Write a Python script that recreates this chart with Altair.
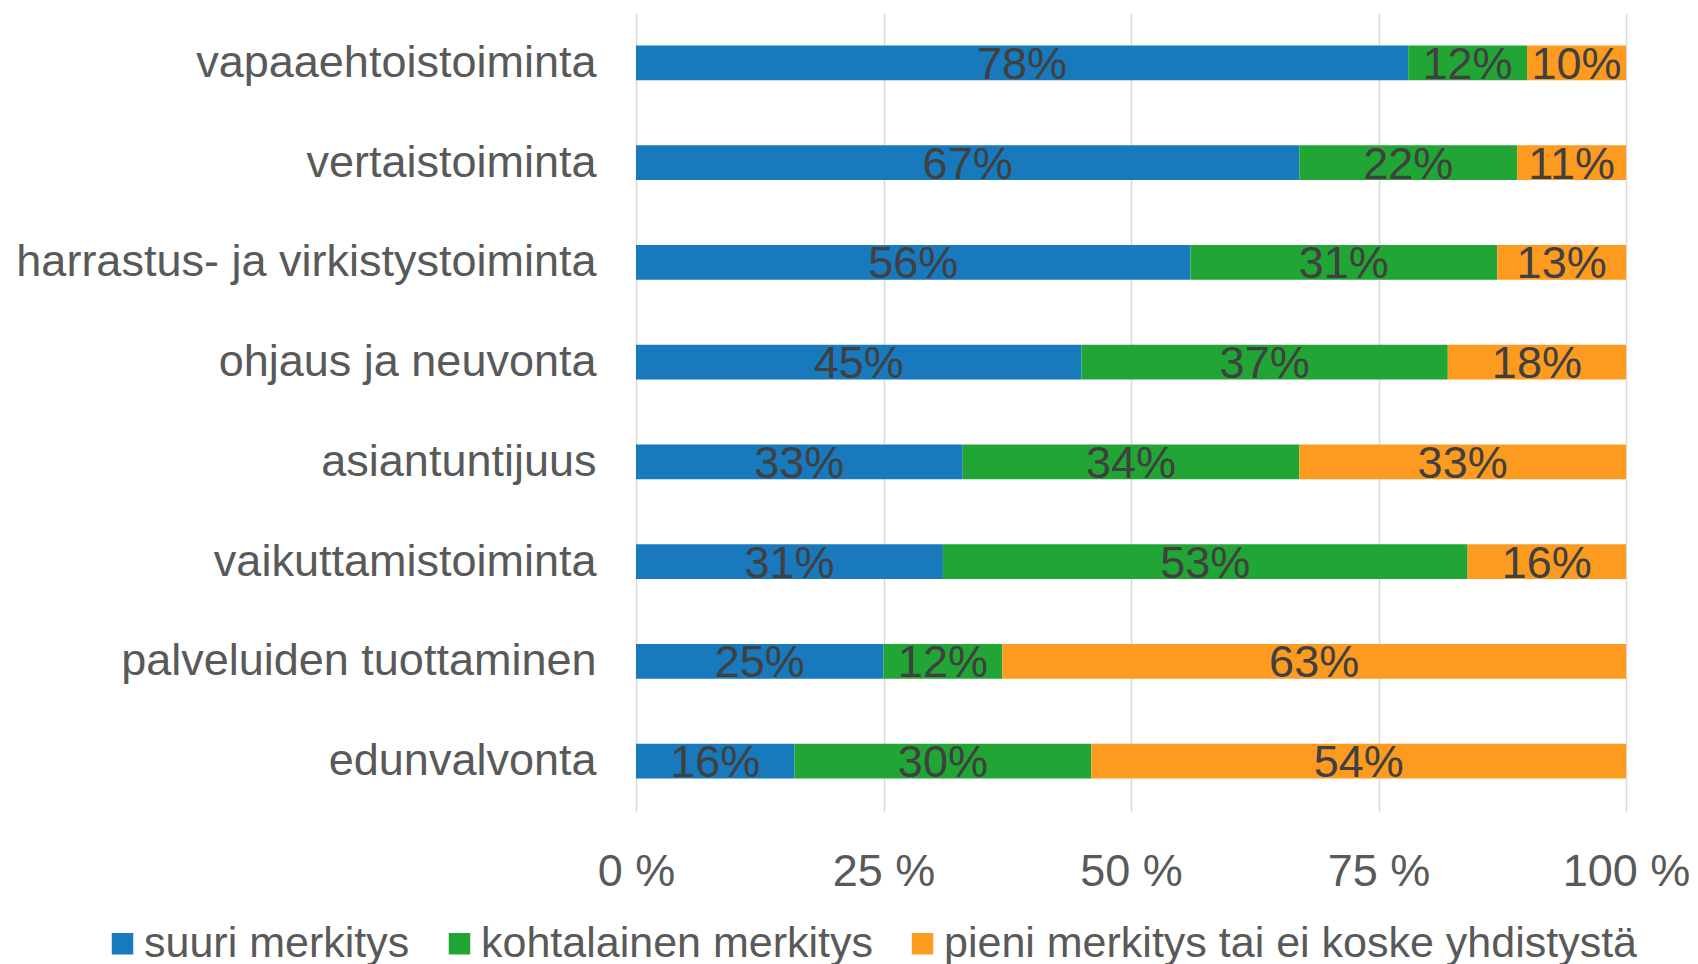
import altair as alt
import pandas as pd

categories = [
    "vapaaehtoistoiminta",
    "vertaistoiminta",
    "harrastus- ja virkistystoiminta",
    "ohjaus ja neuvonta",
    "asiantuntijuus",
    "vaikuttamistoiminta",
    "palveluiden tuottaminen",
    "edunvalvonta",
]
series = ["suuri merkitys", "kohtalainen merkitys", "pieni merkitys tai ei koske yhdistystä"]
suuri = [78, 67, 56, 45, 33, 31, 25, 16]
kohtalainen = [12, 22, 31, 37, 34, 53, 12, 30]
pieni = [10, 11, 13, 18, 33, 16, 63, 54]
colors = ["#1879BD", "#21A535", "#FD9B21"]
x_ticks = [0, 25, 50, 75, 100]

rows = []
for i, c in enumerate(categories):
    for j, (s, vals) in enumerate(zip(series, [suuri, kohtalainen, pieni])):
        rows.append({"cat": c, "series": s, "order": j, "value": vals[i]})
df = pd.DataFrame(rows)

FONT = "Liberation Sans"

base = alt.Chart(df).transform_stack(
    stack="value", groupby=["cat"], as_=["x0", "x1"], sort=[alt.SortField("order")]
).transform_calculate(
    mid="(datum.x0 + datum.x1) / 2", label="datum.value + '%'"
)

y_enc = alt.Y(
    "cat:N",
    sort=categories,
    title=None,
    scale=alt.Scale(paddingInner=0.65, paddingOuter=0.325),
    axis=alt.Axis(
        labelFontSize=45, labelColor="#595959", labelFont=FONT, labelPadding=40,
        ticks=False, domain=False, grid=False, labelLimit=1000,
    ),
)

bars = base.mark_bar(strokeWidth=0).encode(
    x=alt.X(
        "x0:Q",
        scale=alt.Scale(domain=[0, 100], nice=False),
        title=None,
        axis=alt.Axis(
            values=x_ticks, labelExpr="datum.value + ' %'", labelFontSize=45,
            labelColor="#595959", labelFont=FONT, labelPadding=38, tickSize=0,
            labelFlush=False, ticks=False, domain=False, grid=True,
            gridColor="#D9D9D9", gridWidth=1.5,
        ),
    ),
    x2="x1:Q",
    y=y_enc,
    color=alt.Color(
        "series:N",
        scale=alt.Scale(domain=series, range=colors),
        legend=alt.Legend(
            title=None, orient="none", direction="horizontal",
            legendX=-535, legendY=909, labelFontSize=43, labelFont=FONT,
            labelColor="#595959", symbolType="square", symbolSize=462,
            symbolStrokeWidth=0, symbolOpacity=1, labelOffset=0,
            columnPadding=28, labelLimit=1000,
        ),
    ),
)

labels = base.mark_text(
    fontSize=45, font=FONT, color="#404040", baseline="middle", align="center", dy=2
).encode(
    x="mid:Q",
    y=alt.Y("cat:N", sort=categories),
    text="label:N",
)

chart = alt.layer(bars, labels).properties(
    width=990,
    height=798,
    autosize=alt.AutoSizeParams(type="none"),
    padding={"left": 628, "top": 5, "right": 64, "bottom": 165},
).configure_view(stroke=None)

chart.save("out.html", embed_options={"renderer": "svg", "actions": False})
